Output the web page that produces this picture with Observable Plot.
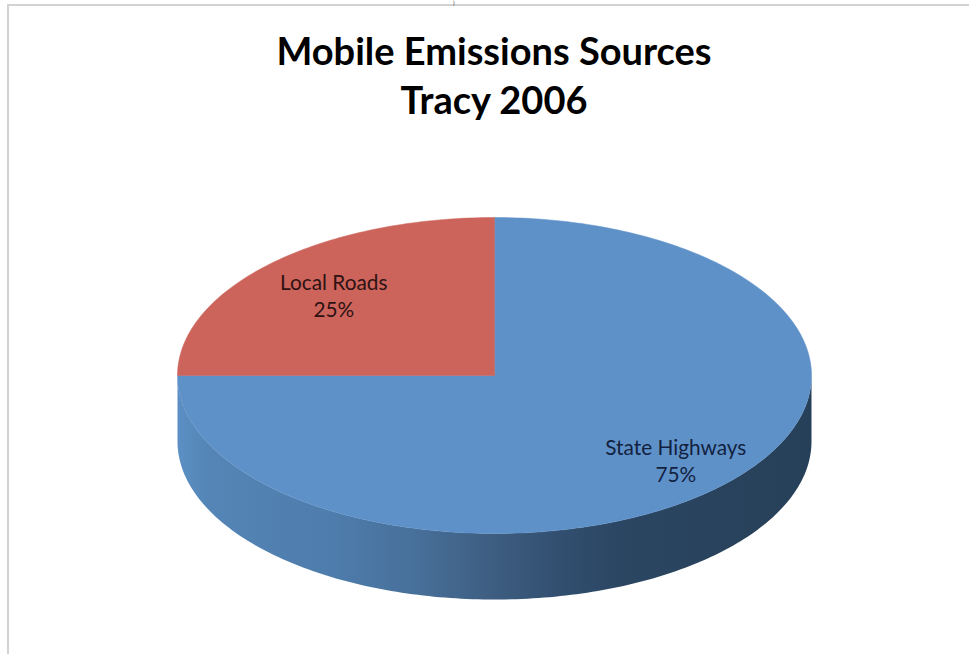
<!DOCTYPE html>
<html>
<head>
<meta charset="utf-8">
<script src="https://cdn.jsdelivr.net/npm/d3@7"></script>
<script src="https://cdn.jsdelivr.net/npm/@observablehq/plot@0.6"></script>
<style>
html,body{margin:0;padding:0;background:#fff;overflow:hidden}
#page{position:relative;width:969px;height:654px;overflow:hidden}
#frame{position:absolute;left:7px;top:4px;right:-4px;bottom:-4px;border-left:2px solid #d2d2d2;border-top:2px solid #d2d2d2}
#frag{position:absolute;left:453px;top:0;font:6px/5px Lato,sans-serif;color:#333}
#title{position:absolute;left:0;top:0;width:988px;height:140px;text-align:center;font:700 38px/49px Lato,sans-serif;color:#000;padding-top:26px;box-sizing:border-box}
#chart{position:absolute;left:0;top:140px}
#chart svg{display:block}
</style>
</head>
<body>
<div id="page">
<div id="frame"></div>
<div id="frag">)</div>
<div id="title">Mobile Emissions Sources<br>Tracy 2006</div>
<div id="chart"></div>
</div>
<script>
const categories = ["State Highways", "Local Roads"];
const shares = [75, 25];
const sliceColors = ["#5f91c9", "#cc645c"];
const labelColors = ["#12223f", "#2e1212"];
const labelAnchors = [[0.572, 0.536], [-0.507, -0.51]];

const depth = 0.418;
const gradientStops = [
  [0, "#5c8fc4"], [0.05, "#5485b6"], [0.25, "#4e7cab"], [0.38, "#476f99"],
  [0.48, "#3f6084"], [0.6, "#324f70"], [0.7, "#2b4662"], [1, "#274059"]
];

const total = d3.sum(shares);
const rad = d => d * Math.PI / 180;
const onEllipse = (deg, drop = 0) => ({x: Math.sin(rad(deg)), y: -Math.cos(rad(deg)) + drop});

let start = 0;
const slicePoints = categories.flatMap((name, i) => {
  const from = start, to = start + shares[i] / total * 360;
  start = to;
  const arc = d3.range(from, to, 1).concat(to).map(d => ({...onEllipse(d), name, fill: sliceColors[i]}));
  return [{x: 0, y: 0, name, fill: sliceColors[i]}, ...arc, {x: 0, y: 0, name, fill: sliceColors[i]}];
});

const frontDegrees = d3.range(90, 271, 1);
const sidePoints = [
  ...frontDegrees.map(d => onEllipse(d, depth)),
  ...frontDegrees.slice().reverse().map(d => onEllipse(d))
];

const labels = categories.map((name, i) => ({
  text: `${name}\n${shares[i]}%`,
  x: labelAnchors[i][0],
  y: labelAnchors[i][1],
  fill: labelColors[i]
}));

const gradient = () => {
  const defs = d3.create("svg:defs");
  const g = defs.append("linearGradient").attr("id", "sideShade").attr("x1", 0).attr("x2", 1).attr("y1", 0).attr("y2", 0);
  gradientStops.forEach(([o, c]) => g.append("stop").attr("offset", o).attr("stop-color", c));
  return defs.node();
};

const chart = Plot.plot({
  width: 969,
  height: 514,
  margin: 0,
  x: {axis: null, domain: [-1, 1], range: [177, 811]},
  y: {axis: null, domain: [-1, 1], range: [77, 393]},
  marks: [
    gradient,
    Plot.line(sidePoints, {x: "x", y: "y", fill: "url(#sideShade)", stroke: "none"}),
    Plot.line(slicePoints, {x: "x", y: "y", z: "name", fill: "fill", stroke: "fill", strokeWidth: 0.5}),
    Plot.text(labels, {x: "x", y: "y", text: "text", fill: "fill", fontFamily: "Lato, sans-serif", fontSize: 20.8, lineHeight: 1.3})
  ]
});
document.getElementById("chart").append(chart);
</script>
</body>
</html>
